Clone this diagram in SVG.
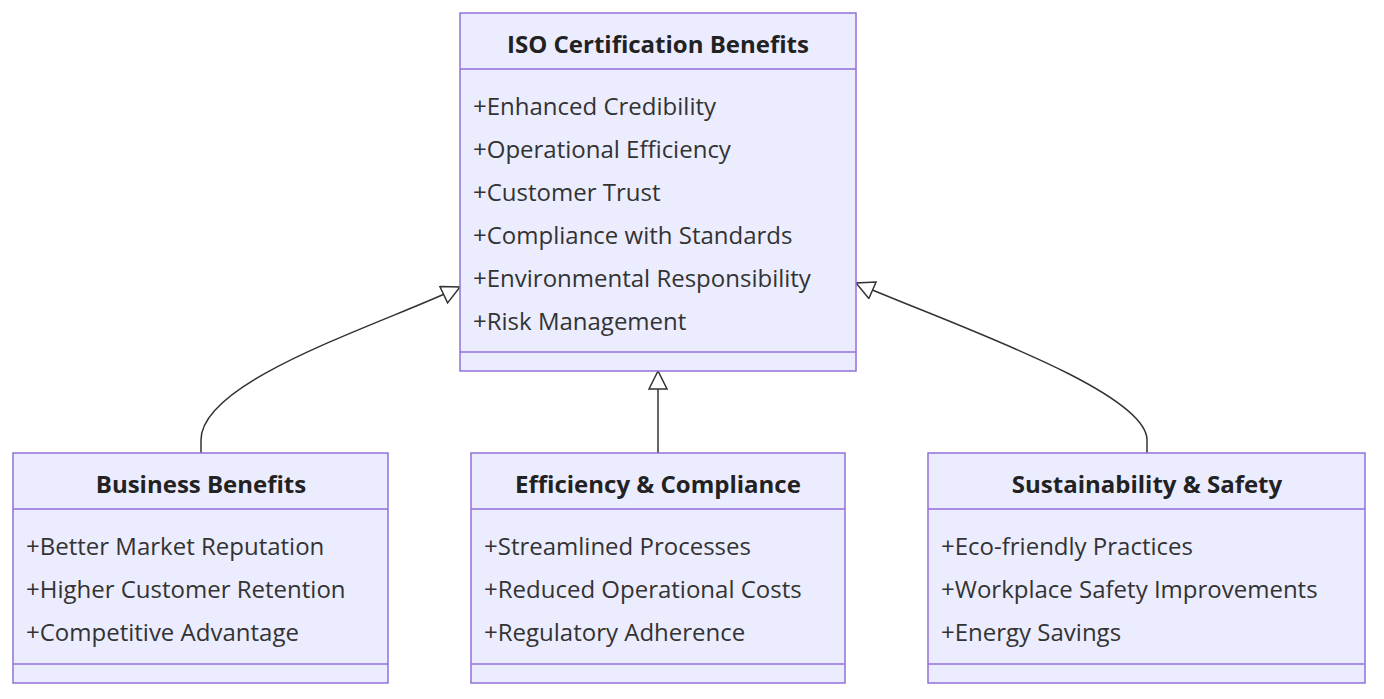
<svg xmlns="http://www.w3.org/2000/svg" width="1384" height="699" viewBox="0 0 1384 699">
<style>
.box{fill:#ECECFF;stroke:#9370DB;stroke-width:1.5}
.ln{stroke:#9370DB;stroke-width:1.5}
.t{font-family:"Open Sans",sans-serif;font-size:24px;fill:#333}
.h{font-family:"Open Sans",sans-serif;font-size:24px;font-weight:bold;fill:#222;text-anchor:middle}
.c{fill:none;stroke:#333;stroke-width:1.5}
</style>
<defs>
<marker id="tri" viewBox="0 0 20 20" refX="19" refY="10" markerWidth="20" markerHeight="20" markerUnits="userSpaceOnUse" orient="auto">
<path d="M1,1 L19,10 L1,19 Z" fill="#fff" stroke="#333" stroke-width="1.5"/>
</marker>
</defs>
<g id="connectors">
<path class="c" d="M201,453 L201,440 C201,380 380,325 460,287" marker-end="url(#tri)"/>
<path class="c" d="M658,453 L658,371" marker-end="url(#tri)"/>
<path class="c" d="M1147,453 L1147,440 C1147,390 940,320 856,283" marker-end="url(#tri)"/>
</g>
<g id="iso">
<rect class="box" x="460" y="13" width="396" height="358"/>
<line class="ln" x1="460" y1="69" x2="856" y2="69"/>
<line class="ln" x1="460" y1="352" x2="856" y2="352"/>
<text class="h" x="658" y="53">ISO Certification Benefits</text>
<text class="t" x="473" y="115">+Enhanced Credibility</text>
<text class="t" x="473" y="158">+Operational Efficiency</text>
<text class="t" x="473" y="201">+Customer Trust</text>
<text class="t" x="473" y="244">+Compliance with Standards</text>
<text class="t" x="473" y="287">+Environmental Responsibility</text>
<text class="t" x="473" y="330">+Risk Management</text>
</g>
<g id="business">
<rect class="box" x="13" y="453" width="375" height="230"/>
<line class="ln" x1="13" y1="509" x2="388" y2="509"/>
<line class="ln" x1="13" y1="664" x2="388" y2="664"/>
<text class="h" x="201" y="493">Business Benefits</text>
<text class="t" x="26" y="555">+Better Market Reputation</text>
<text class="t" x="26" y="598">+Higher Customer Retention</text>
<text class="t" x="26" y="641">+Competitive Advantage</text>
</g>
<g id="efficiency">
<rect class="box" x="471" y="453" width="374" height="230"/>
<line class="ln" x1="471" y1="509" x2="845" y2="509"/>
<line class="ln" x1="471" y1="664" x2="845" y2="664"/>
<text class="h" x="658" y="493">Efficiency &amp; Compliance</text>
<text class="t" x="484" y="555">+Streamlined Processes</text>
<text class="t" x="484" y="598">+Reduced Operational Costs</text>
<text class="t" x="484" y="641">+Regulatory Adherence</text>
</g>
<g id="sustainability">
<rect class="box" x="928" y="453" width="437" height="230"/>
<line class="ln" x1="928" y1="509" x2="1365" y2="509"/>
<line class="ln" x1="928" y1="664" x2="1365" y2="664"/>
<text class="h" x="1147" y="493">Sustainability &amp; Safety</text>
<text class="t" x="941" y="555">+Eco-friendly Practices</text>
<text class="t" x="941" y="598">+Workplace Safety Improvements</text>
<text class="t" x="941" y="641">+Energy Savings</text>
</g>
</svg>
